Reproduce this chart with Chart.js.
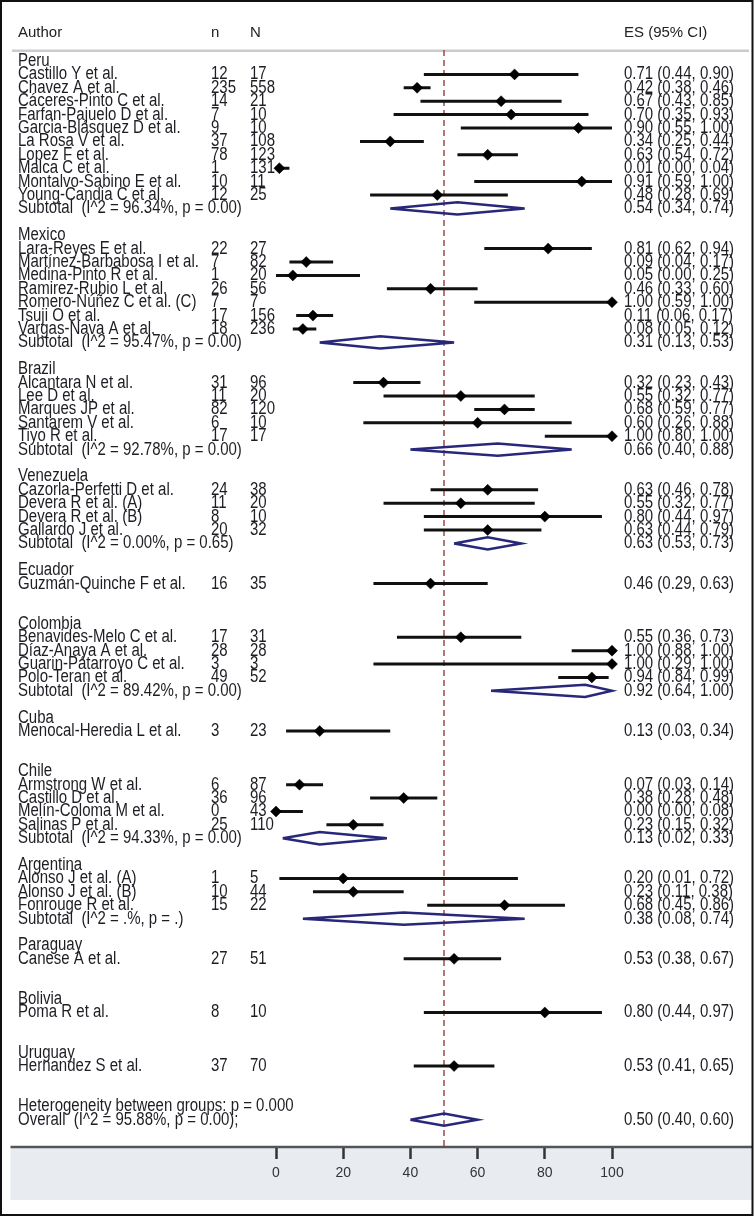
<!DOCTYPE html>
<html>
<head>
<meta charset="utf-8">
<script src="https://cdn.jsdelivr.net/npm/chart.js@4.4.1/dist/chart.umd.min.js"></script>
<style>
  html, body { margin: 0; padding: 0; background: #fff; }
  #wrap { width: 756px; height: 1217px; position: relative; }
</style>
</head>
<body>
<div id="wrap"><canvas id="forest"></canvas></div>
<script>
// --- DATA ---
const groups = ['Peru', 'Mexico', 'Brazil', 'Venezuela', 'Ecuador', 'Colombia', 'Cuba', 'Chile', 'Argentina', 'Paraguay', 'Bolivia', 'Uruguay'];
const groupSizes = [10, 7, 5, 4, 1, 4, 1, 4, 3, 1, 1, 1];

const authors = [
  'Castillo Y et al.', 'Chavez A et al.', 'Cáceres-Pinto C et al.', 'Farfan-Pajuelo D et al.', 'Garcia-Blásquez D et al.',
  'La Rosa V et al.', 'Lopez F et al.', 'Malca C et al.', 'Montalvo-Sabino E et al.', 'Young-Candia C et al.',
  'Lara-Reyes E et al.', 'Martínez-Barbabosa I et al.', 'Medina-Pinto R et al.', 'Ramirez-Rubio L et al.',
  'Romero-Núñez C et al. (C)', 'Tsuji O et al.', 'Vargas-Nava A et al.',
  'Alcantara N et al.', 'Lee D et al.', 'Marques JP et al.', 'Santarem V et al.', 'Tiyo R et al.',
  'Cazorla-Perfetti D et al.', 'Devera R et al. (A)', 'Devera R et al. (B)', 'Gallardo J et al.',
  'Guzmán-Quinche F et al.',
  'Benavides-Melo C et al.', 'Díaz-Anaya A et al.', 'Guarin-Pátarroyo C et al.', 'Polo-Teran et al.',
  'Menocal-Heredia L et al.',
  'Armstrong W et al.', 'Castillo D et al.', 'Melín-Coloma M et al.', 'Salinas P et al.',
  'Alonso J et al. (A)', 'Alonso J et al. (B)', 'Fonrouge R et al.',
  'Canese A et al.',
  'Poma R et al.',
  'Hernandez S et al.'
];
const nEvents = [12, 235, 14, 7, 9, 37, 78, 1, 10, 12, 22, 7, 1, 26, 7, 17, 18, 31, 11, 82, 6, 17, 24, 11, 8, 20, 16, 17, 28, 3, 49, 3, 6, 36, 0, 25, 1, 10, 15, 27, 8, 37];
const nTotal = [17, 558, 21, 10, 10, 108, 123, 131, 11, 25, 27, 82, 20, 56, 7, 156, 236, 96, 20, 120, 10, 17, 38, 20, 10, 32, 35, 31, 28, 3, 52, 23, 87, 96, 43, 110, 5, 44, 22, 51, 10, 70];
const es = [0.71, 0.42, 0.67, 0.70, 0.90, 0.34, 0.63, 0.01, 0.91, 0.48, 0.81, 0.09, 0.05, 0.46, 1.00, 0.11, 0.08, 0.32, 0.55, 0.68, 0.60, 1.00, 0.63, 0.55, 0.80, 0.63, 0.46, 0.55, 1.00, 1.00, 0.94, 0.13, 0.07, 0.38, 0.00, 0.23, 0.20, 0.23, 0.68, 0.53, 0.80, 0.53];
const ciLow = [0.44, 0.38, 0.43, 0.35, 0.55, 0.25, 0.54, 0.00, 0.59, 0.28, 0.62, 0.04, 0.00, 0.33, 0.59, 0.06, 0.05, 0.23, 0.32, 0.59, 0.26, 0.80, 0.46, 0.32, 0.44, 0.44, 0.29, 0.36, 0.88, 0.29, 0.84, 0.03, 0.03, 0.28, 0.00, 0.15, 0.01, 0.11, 0.45, 0.38, 0.44, 0.41];
const ciHigh = [0.90, 0.46, 0.85, 0.93, 1.00, 0.44, 0.72, 0.04, 1.00, 0.69, 0.94, 0.17, 0.25, 0.60, 1.00, 0.17, 0.12, 0.43, 0.77, 0.77, 0.88, 1.00, 0.78, 0.77, 0.97, 0.79, 0.63, 0.73, 1.00, 1.00, 0.99, 0.34, 0.14, 0.48, 0.08, 0.32, 0.72, 0.38, 0.86, 0.67, 0.97, 0.65];

// subgroup pooled estimates (null = single study, no subtotal)
const subEs = [0.54, 0.31, 0.66, 0.63, null, 0.92, null, 0.13, 0.38, null, null, null];
const subLow = [0.34, 0.13, 0.40, 0.53, null, 0.64, null, 0.02, 0.08, null, null, null];
const subHigh = [0.74, 0.53, 0.88, 0.73, null, 1.00, null, 0.33, 0.74, null, null, null];
const subI2 = ['96.34%', '95.47%', '92.78%', '0.00%', null, '89.42%', null, '94.33%', '.%', null, null, null];
const subP = ['0.00', '0.00', '0.00', '0.65', null, '0.00', null, '0.00', '.', null, null, null];

const overallEs = 0.50;
const overallLow = 0.40;
const overallHigh = 0.60;
const overallI2 = '95.88%';
const overallP = '0.00';
const betweenP = '0.000';

const xTickLabels = ['0', '20', '40', '60', '80', '100'];

// --- ROW LAYOUT ---
const rows = [];
let studyIdx = 0;
groups.forEach((g, gi) => {
  rows.push({ kind: 'group', gi });
  for (let k = 0; k < groupSizes[gi]; k++) rows.push({ kind: 'study', si: studyIdx++ });
  rows.push(subEs[gi] === null ? { kind: 'blank' } : { kind: 'subtotal', gi });
  rows.push({ kind: 'blank' });
});
rows.push({ kind: 'het' });
rows.push({ kind: 'overall' });

// --- FONTS ---
function hasFont(name) {
  const c = document.createElement('canvas').getContext('2d');
  c.font = '40px monospace';
  const a = c.measureText('abcdefghijkMNW').width;
  c.font = `40px "${name}", monospace`;
  const b = c.measureText('abcdefghijkMNW').width;
  return a !== b;
}
const narrow = hasFont('Liberation Sans Narrow');
const bodyFont = narrow ? '18px "Liberation Sans Narrow"' : '15px "Liberation Sans"';
const TEXT = '#1d1d24';

function stretchText(ctx, text, x, y) {
  ctx.save();
  ctx.translate(x, y);
  if (!narrow) ctx.scale(1, 1.2);
  ctx.fillText(text, 0, 0);
  ctx.restore();
}

// --- DATASETS ---
const markerData = [];
const ciData = [];
const diamondData = [];
const D = 0.46; // half height of pooled diamonds, in rows

rows.forEach((r, i) => {
  if (r.kind === 'study') {
    markerData.push({ x: es[r.si], y: i });
    ciData.push({ x: ciLow[r.si], y: i }, { x: ciHigh[r.si], y: i }, { x: ciHigh[r.si], y: null });
  } else if (r.kind === 'subtotal') {
    const g = r.gi;
    diamondData.push(
      { x: subLow[g], y: i }, { x: subEs[g], y: i - D }, { x: subHigh[g], y: i },
      { x: subEs[g], y: i + D }, { x: subLow[g], y: i }, { x: subLow[g], y: null }
    );
  } else if (r.kind === 'overall') {
    diamondData.push(
      { x: overallLow, y: i }, { x: overallEs, y: i - D }, { x: overallHigh, y: i },
      { x: overallEs, y: i + D }, { x: overallLow, y: i }
    );
  }
});

const Y_MIN = -0.82;
const Y_MAX = 81.04;

// --- PLUGIN: frame, header, text columns ---
const forestDecor = {
  id: 'forestDecor',
  beforeDraw(chart) {
    const ctx = chart.ctx;
    const area = chart.chartArea;
    ctx.save();
    ctx.fillStyle = '#fff';
    ctx.fillRect(0, 0, chart.width, chart.height);
    // grey axis panel
    ctx.fillStyle = '#e8ecf0';
    ctx.fillRect(10.5, area.bottom, 742, 53);
    // header rule
    ctx.fillStyle = '#cbcbcb';
    ctx.fillRect(12, 49.5, 737, 2.5);
    // header text
    ctx.fillStyle = '#222';
    ctx.font = '15px "Liberation Sans"';
    ctx.textBaseline = 'middle';
    ctx.fillText('Author', 18, 33);
    ctx.fillText('n', 211, 33);
    ctx.fillText('N', 250, 33);
    ctx.fillText('ES (95% CI)', 624, 33);
    ctx.restore();
  },
  afterDatasetsDraw(chart) {
    const ctx = chart.ctx;
    const y = chart.scales.y;
    const area = chart.chartArea;
    ctx.save();
    // axis line across the panel
    ctx.strokeStyle = '#555';
    ctx.lineWidth = 2.5;
    ctx.beginPath();
    ctx.moveTo(10.5, area.bottom);
    ctx.lineTo(752, area.bottom);
    ctx.stroke();

    ctx.fillStyle = TEXT;
    ctx.font = bodyFont;
    ctx.textBaseline = 'middle';
    rows.forEach((r, i) => {
      const py = y.getPixelForValue(i);
      if (r.kind === 'group') {
        stretchText(ctx, groups[r.gi], 18, py);
      } else if (r.kind === 'study') {
        const s = r.si;
        stretchText(ctx, authors[s], 18, py);
        stretchText(ctx, String(nEvents[s]), 211, py);
        stretchText(ctx, String(nTotal[s]), 250, py);
        stretchText(ctx, `${es[s].toFixed(2)} (${ciLow[s].toFixed(2)}, ${ciHigh[s].toFixed(2)})`, 624, py);
      } else if (r.kind === 'subtotal') {
        const g = r.gi;
        stretchText(ctx, `Subtotal  (I^2 = ${subI2[g]}, p = ${subP[g]})`, 18, py);
        stretchText(ctx, `${subEs[g].toFixed(2)} (${subLow[g].toFixed(2)}, ${subHigh[g].toFixed(2)})`, 624, py);
      } else if (r.kind === 'het') {
        stretchText(ctx, `Heterogeneity between groups: p = ${betweenP}`, 18, py);
      } else if (r.kind === 'overall') {
        stretchText(ctx, `Overall  (I^2 = ${overallI2}, p = ${overallP});`, 18, py);
        stretchText(ctx, `${overallEs.toFixed(2)} (${overallLow.toFixed(2)}, ${overallHigh.toFixed(2)})`, 624, py);
      }
    });

    // outer frame
    ctx.strokeStyle = '#111';
    ctx.lineWidth = 2;
    ctx.strokeRect(1, 1, 751.5, 1214);
    ctx.restore();
  }
};

new Chart(document.getElementById('forest'), {
  type: 'scatter',
  data: {
    datasets: [
      {
        label: 'ES',
        data: markerData,
        pointStyle: 'rectRot',
        pointRadius: 5.5,
        pointBackgroundColor: '#000',
        pointBorderColor: '#000',
        pointBorderWidth: 0.5,
        showLine: false,
        clip: false
      },
      {
        label: '95% CI',
        data: ciData,
        showLine: true,
        borderColor: '#111',
        borderWidth: 3,
        pointRadius: 0,
        spanGaps: false
      },
      {
        label: 'Pooled',
        data: diamondData,
        showLine: true,
        borderColor: '#28287a',
        borderWidth: 2.5,
        borderJoinStyle: 'miter',
        pointRadius: 0,
        spanGaps: false,
        clip: false
      },
      {
        label: 'Overall line',
        data: [{ x: overallEs, y: Y_MIN }, { x: overallEs, y: Y_MAX }],
        showLine: true,
        borderColor: '#9a4b4b',
        borderWidth: 1.5,
        borderDash: [6, 4],
        pointRadius: 0
      }
    ]
  },
  options: {
    responsive: true,
    maintainAspectRatio: false,
    animation: false,
    events: [],
    layout: { padding: { left: 276, right: 144, top: 50, bottom: 0 } },
    scales: {
      x: {
        type: 'linear',
        min: 0,
        max: 1,
        ticks: {
          stepSize: 0.2,
          padding: 6,
          color: '#333',
          font: { family: narrow ? 'Liberation Sans Narrow' : 'Liberation Sans', size: narrow ? 17 : 14 },
          callback: (v, i) => xTickLabels[i]
        },
        grid: {
          drawOnChartArea: false,
          drawTicks: true,
          tickLength: 12,
          tickWidth: 2.5,
          tickColor: '#333'
        },
        border: { display: false },
        afterFit(scale) { scale.height = 70; }
      },
      y: {
        type: 'linear',
        reverse: true,
        min: Y_MIN,
        max: Y_MAX,
        display: false
      }
    },
    plugins: {
      legend: { display: false },
      tooltip: { enabled: false }
    }
  },
  plugins: [forestDecor]
});
</script>
</body>
</html>
